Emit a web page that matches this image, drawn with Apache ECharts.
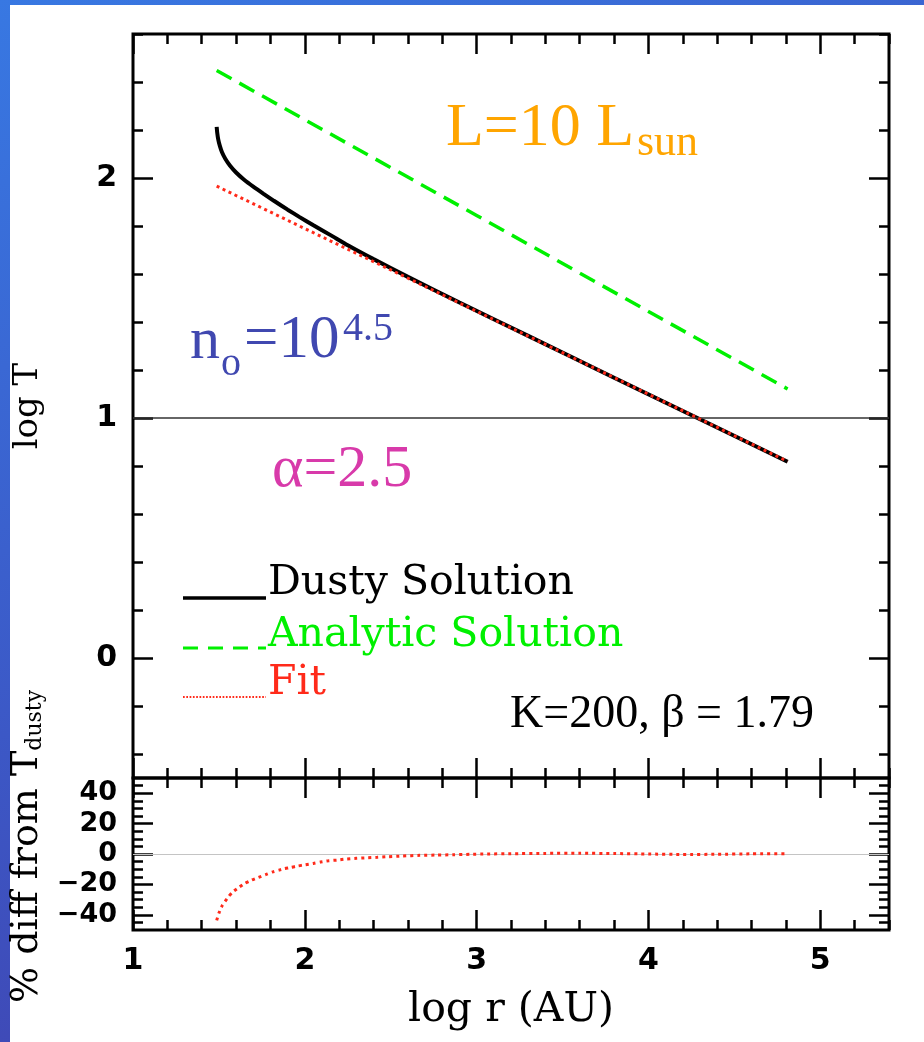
<!DOCTYPE html>
<html>
<head>
<meta charset="utf-8">
<script src="https://cdn.jsdelivr.net/npm/echarts@6/dist/echarts.min.js"></script>
<style>
  html, body { margin: 0; padding: 0; }
  body {
    width: 924px; height: 1042px; overflow: hidden; position: relative;
    background: linear-gradient(155deg, #3878e2 0%, #3c58c6 50%, #4338a4 100%);
  }
  #paper { position: absolute; left: 10px; top: 5px; right: 0; bottom: 0; background: #fff; }
  #chart { position: absolute; left: 0; top: 0; width: 924px; height: 1042px; }
</style>
</head>
<body>
<div id="paper"></div>
<div id="chart"></div>
<script>
// ---- data -------------------------------------------------------------
// log r (AU) of the Dusty model solution and its log T
const dustyLogR = [1.487, 1.490, 1.496, 1.505, 1.518, 1.538, 1.565, 1.600, 1.645, 1.700, 1.760, 1.820,
                   1.900, 1.970, 2.050, 2.150, 2.250, 2.400, 2.600, 2.900, 3.300, 3.800, 4.300, 4.810];
const dustyLogT = [2.213, 2.190, 2.161, 2.135, 2.107, 2.079, 2.051, 2.023, 1.994, 1.964, 1.934, 1.905,
                   1.868, 1.837, 1.803, 1.762, 1.720, 1.662, 1.588, 1.481, 1.342, 1.168, 0.995, 0.818];

// analytic solution (straight power law)
const analyticLogR = [1.487, 2.0, 3.0, 4.0, 4.81];
const analyticLogT = [2.448, 2.243, 1.844, 1.444, 1.121];

// power-law fit
const fitLogR = [1.487, 2.5, 3.5, 4.81];
const fitLogT = [1.966, 1.617, 1.272, 0.819];

// percent difference of the fit from T_dusty
const diffLogR = [1.487, 1.50, 1.52, 1.55, 1.58, 1.62, 1.65, 1.69, 1.73, 1.77, 1.81, 1.85, 1.88, 1.92,
                  1.96, 2.00, 2.05, 2.09, 2.14, 2.19, 2.24, 2.30, 2.36, 2.42, 2.48, 2.57, 2.67, 2.77,
                  2.86, 2.96, 3.06, 3.20, 3.40, 3.60, 3.80, 4.00, 4.20, 4.40, 4.60, 4.81];
const diffPct  = [-43.7, -38.9, -33.8, -28.9, -25.0, -21.7, -19.4, -17.2, -15.4, -13.7, -11.9, -10.6, -9.7, -8.8,
                  -7.9, -7.1, -6.2, -5.3, -4.4, -4.0, -3.3, -2.8, -2.5, -2.2, -1.8, -1.3, -0.9, -0.7,
                  -0.5, -0.2, 0.0, 0.2, 0.4, 0.5, 0.3, 0.0, -0.3, -0.2, 0.1, 0.2];

// axes
const xRange = [1, 5.4];
const xMajor = [1, 2, 3, 4, 5];
const xTickLabels = ['1', '2', '3', '4', '5'];
const tRange = [-0.5, 2.6];
const tMajor = [0, 1, 2];
const tTickLabels = ['0', '1', '2'];
const dRange = [-50, 50];
const dMajor = [-40, -20, 0, 20, 40];
const dTickLabels = ['\u221240', '\u221220', '0', '20', '40'];

// ---- styling ----------------------------------------------------------
const GREEN = '#00f000';
const RED = '#ff2a1a';
const TICK_FONT = 'DejaVu Sans';
const TITLE_FONT = 'DejaVu Serif';
const NOTE_FONT = 'Liberation Serif';

function steps(a, b, s) {
  const out = [];
  for (let k = 0; a + k * s <= b + 1e-9; k++) out.push(+(a + k * s).toFixed(4));
  return out;
}
const xMinor = steps(1, 5.4, 0.2);
const tMinor = steps(-0.4, 2.6, 0.2);
const dMinor = steps(-45, 45, 5);

function zip(a, b) { return a.map((v, i) => [v, b[i]]); }

function tickAxis(gridIndex, position, range, values, len, labelCfg, extra) {
  const ax = {
    type: 'value', gridIndex, position, min: range[0], max: range[1],
    axisLine: { show: false, onZero: false },
    splitLine: { show: false },
    axisTick: { show: true, inside: true, length: len, customValues: values,
                lineStyle: { color: '#000', width: 2.5 } },
    axisLabel: { show: false },
    axisPointer: { show: false }
  };
  if (labelCfg) {
    ax.axisLabel = Object.assign({
      show: true, customValues: values, color: '#000',
      fontFamily: TICK_FONT, fontWeight: 'bold', fontSize: 30
    }, labelCfg);
  }
  return Object.assign(ax, extra || {});
}

const MAJ = 20, MIN = 10;

const xAxes = [
  // upper panel
  tickAxis(0, 'bottom', xRange, xMajor, MAJ),
  tickAxis(0, 'bottom', xRange, xMinor, MIN),
  tickAxis(0, 'top', xRange, xMajor, MAJ),
  tickAxis(0, 'top', xRange, xMinor, MIN),
  // lower panel
  tickAxis(1, 'top', xRange, xMajor, MAJ),
  tickAxis(1, 'top', xRange, xMinor, MIN),
  tickAxis(1, 'bottom', xRange, xMajor, MAJ, {
    margin: 16,
    formatter: v => xTickLabels[xMajor.indexOf(v)]
  }, {
    name: 'log r (AU)', nameLocation: 'middle', nameGap: 60,
    nameTextStyle: { fontFamily: TITLE_FONT, fontSize: 41, color: '#000' }
  }),
  tickAxis(1, 'bottom', xRange, xMinor, MIN)
];

const yAxes = [
  // upper panel
  tickAxis(0, 'left', tRange, tMajor, MAJ, {
    margin: 16,
    formatter: v => tTickLabels[tMajor.indexOf(v)]
  }, {
    name: 'log T', nameLocation: 'middle', nameGap: 88, nameRotate: 90,
    nameTextStyle: { fontFamily: TITLE_FONT, fontSize: 34, color: '#000' }
  }),
  tickAxis(0, 'left', tRange, tMinor, MIN),
  tickAxis(0, 'right', tRange, tMajor, MAJ),
  tickAxis(0, 'right', tRange, tMinor, MIN),
  // lower panel
  tickAxis(1, 'left', dRange, dMajor, MAJ, {
    margin: 16, fontSize: 27,
    formatter: v => dTickLabels[dMajor.indexOf(v)]
  }),
  tickAxis(1, 'left', dRange, dMinor, MIN),
  tickAxis(1, 'right', dRange, dMajor, MAJ),
  tickAxis(1, 'right', dRange, dMinor, MIN)
];

// text placed by its alphabetic baseline (canvas 'middle' sits ~0.34 em above it)
function note(text, x, baseline, size, family, color, weight) {
  const k = family === NOTE_FONT ? 0.3375 : 0.346;
  return {
    type: 'text', x: x, y: baseline - k * size, z: 50, silent: true,
    style: {
      text: text, fill: color, fontSize: size, fontFamily: family, fontWeight: weight || 'normal',
      align: 'left', textAlign: 'left', verticalAlign: 'middle', textVerticalAlign: 'middle'
    }
  };
}

const ORANGE = '#ffa500', BLUE = '#4048b0', MAGENTA = '#d83aaa';

const graphics = [
  // parameter annotations
  note('L=10 L', 446, 150, 62, NOTE_FONT, ORANGE),
  note('sun', 637, 158, 44, NOTE_FONT, ORANGE),
  note('n', 190, 362, 60, NOTE_FONT, BLUE),
  note('o', 221, 378, 40, NOTE_FONT, BLUE),
  note('=10', 244, 362, 61, NOTE_FONT, BLUE),
  note('4.5', 343, 343, 40, NOTE_FONT, BLUE),
  note('\u03b1=2.5', 272, 490, 60, NOTE_FONT, MAGENTA),
  note('K=200, \u03b2 = 1.79', 510, 730, 46, NOTE_FONT, '#000'),
  // key
  { type: 'line', z: 50, silent: true, shape: { x1: 183, y1: 598, x2: 266, y2: 598 },
    style: { stroke: '#000', lineWidth: 3.5 } },
  { type: 'line', z: 50, silent: true, shape: { x1: 183, y1: 648, x2: 266, y2: 648 },
    style: { stroke: GREEN, lineWidth: 3, lineDash: [15, 10] } },
  { type: 'line', z: 50, silent: true, shape: { x1: 183, y1: 697, x2: 266, y2: 697 },
    style: { stroke: RED, lineWidth: 2, lineDash: [1.7, 1.6] } },
  note('Dusty Solution', 268, 598, 41, TITLE_FONT, '#000'),
  note('Analytic Solution', 268, 650, 41, TITLE_FONT, GREEN),
  note('Fit', 268, 698, 41, TITLE_FONT, RED),
  // lower panel axis title, read bottom to top, with subscript
  {
    type: 'text', x: 26, y: 1003, rotation: Math.PI / 2, z: 50, silent: true,
    style: {
      text: '{m|% diff from T}{s|dusty}',
      fill: '#000', fontFamily: TITLE_FONT, fontSize: 38,
      align: 'left', textAlign: 'left', verticalAlign: 'middle', textVerticalAlign: 'middle',
      rich: {
        m: { fontFamily: TITLE_FONT, fontSize: 38, lineHeight: 40, fill: '#000', color: '#000',
             verticalAlign: 'bottom' },
        s: { fontFamily: TITLE_FONT, fontSize: 22, lineHeight: 12, fill: '#000', color: '#000',
             verticalAlign: 'bottom' }
      }
    }
  }
];

const chart = echarts.init(document.getElementById('chart'), null, { renderer: 'canvas' });
chart.setOption({
  backgroundColor: 'transparent',
  animation: false,
  grid: [
    { left: 133, top: 34, width: 756, height: 744, show: true, borderColor: '#000', borderWidth: 3 },
    { left: 133, top: 778, width: 756, height: 152, show: true, borderColor: '#000', borderWidth: 3 }
  ],
  xAxis: xAxes,
  yAxis: yAxes,
  series: [
    {
      name: 'Analytic Solution', type: 'line', xAxisIndex: 0, yAxisIndex: 0, z: 3,
      data: zip(analyticLogR, analyticLogT), symbol: 'none',
      lineStyle: { color: GREEN, width: 3.5, type: [17, 9] }
    },
    {
      name: 'Dusty Solution', type: 'line', xAxisIndex: 0, yAxisIndex: 0, z: 4,
      data: zip(dustyLogR, dustyLogT), symbol: 'none', smooth: 0.2,
      lineStyle: { color: '#000', width: 4 },
      markLine: {
        silent: true, symbol: 'none', label: { show: false },
        lineStyle: { color: '#333', width: 1.5, type: 'solid' },
        data: [{ yAxis: 1 }]
      }
    },
    {
      name: 'Fit', type: 'line', xAxisIndex: 0, yAxisIndex: 0, z: 5,
      data: zip(fitLogR, fitLogT), symbol: 'none',
      lineStyle: { color: RED, width: 3, type: [3, 3.6] }
    },
    {
      name: '% diff', type: 'line', xAxisIndex: 6, yAxisIndex: 4, z: 5,
      data: zip(diffLogR, diffPct), symbol: 'none', smooth: 0.2,
      lineStyle: { color: RED, width: 3, type: [3, 4] },
      markLine: {
        silent: true, symbol: 'none', label: { show: false },
        lineStyle: { color: '#c4c4c4', width: 1.2, type: 'solid' },
        data: [{ yAxis: 0 }]
      }
    }
  ],
  graphic: graphics
});
</script>
</body>
</html>
